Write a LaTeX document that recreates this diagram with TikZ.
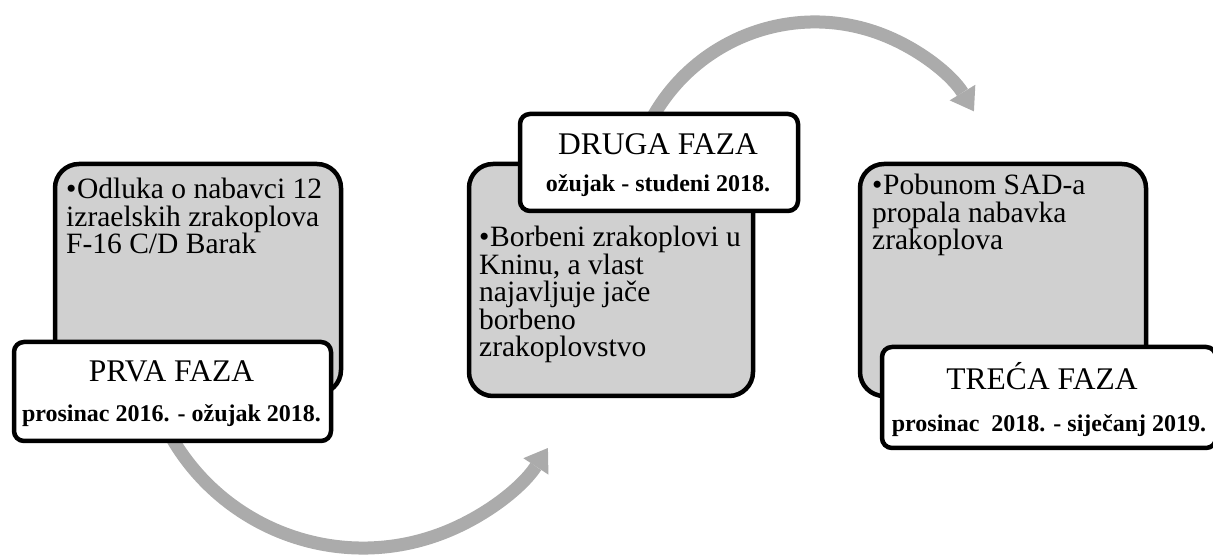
\documentclass[tikz,border=0pt]{standalone}
\usepackage{fontspec}
\setmainfont{Liberation Serif}
\usetikzlibrary{arrows.meta}
\definecolor{boxgray}{RGB}{208,208,208}
\definecolor{arrowgray}{RGB}{171,171,171}
\begin{document}
\begin{tikzpicture}[x=1pt,y=1pt,
  graybox/.style={draw=black, line width=4.5pt, fill=boxgray, rounded corners=24pt, inner sep=0pt, outer sep=0pt},
  whitebox/.style={draw=black, line width=4.5pt, fill=white, rounded corners=10pt, inner sep=0pt, outer sep=0pt},
  flowarrow/.style={draw=arrowgray, line width=13pt, -{Triangle[length=22pt,width=30pt,line width=0pt]}},
  phasetitle/.style={font=\fontsize{31.5}{31.5}\selectfont, anchor=base, inner sep=0pt},
  phasedate/.style={font=\bfseries\fontsize{24}{24}\selectfont, anchor=base, inner sep=0pt},
  bodytext/.style={font=\fontsize{29.5}{27.5}\selectfont, anchor=base west, inner sep=0pt}]
\clip (0,0) rectangle (1213,556);
% arrows
\coordinate (c1) at (363,229);
\coordinate (c2) at (815,348);
\draw[flowarrow] (c1) ++(200:221) arc[start angle=200, end angle=326.8, radius=221];
\draw[flowarrow] (c2) ++(160:186) arc[start angle=160, end angle=31.3, radius=186];
% gray boxes
\node[graybox, minimum width=286pt, minimum height=230pt] (g1) at (198,277) {};
\node[graybox, minimum width=284pt, minimum height=232pt] (g2) at (611,276) {};
\node[graybox, minimum width=286pt, minimum height=232pt] (g3) at (1003,276) {};
% body texts
\node[bodytext] (t1) at (66,357) {\parbox[t]{280pt}{\raggedright\hangindent=11pt\hangafter=1\noindent\makebox[11pt][l]{•}Odluka o nabavci 12\\izraelskih zrakoplova\\F-16 C/D Barak}};
\node[bodytext] (t2) at (479,309) {\parbox[t]{280pt}{\raggedright\hangindent=11pt\hangafter=1\noindent\makebox[11pt][l]{•}Borbeni zrakoplovi u\\Kninu, a vlast\\najavljuje jače\\borbeno\\zrakoplovstvo}};
\node[bodytext] (t3) at (872,361) {\parbox[t]{280pt}{\raggedright\hangindent=11pt\hangafter=1\noindent\makebox[11pt][l]{•}Pobunom SAD-a\\propala nabavka\\zrakoplova}};
% white boxes
\node[whitebox, minimum width=317pt, minimum height=99pt] (w1) at (172.5,164.5) {};
\node[whitebox, minimum width=278pt, minimum height=97pt] (w2) at (659,393.5) {};
\node[whitebox, minimum width=334pt, minimum height=101pt] (w3) at (1049,158.5) {};
% titles
\node[phasetitle] (h1) at (171.5,174) {PRVA FAZA};
\node[phasedate] (d1) at (171.5,134) {prosinac 2016. - ožujak 2018.};
\node[phasetitle] (h2) at (658,401) {DRUGA FAZA};
\node[phasedate] (d2) at (658,364) {ožujak - studeni 2018.};
\node[phasetitle] (h3) at (1042,166) {TREĆA FAZA};
\node[phasedate] (d3) at (1049,124) {prosinac\ \ 2018. - siječanj 2019.};
\end{tikzpicture}
\end{document}
